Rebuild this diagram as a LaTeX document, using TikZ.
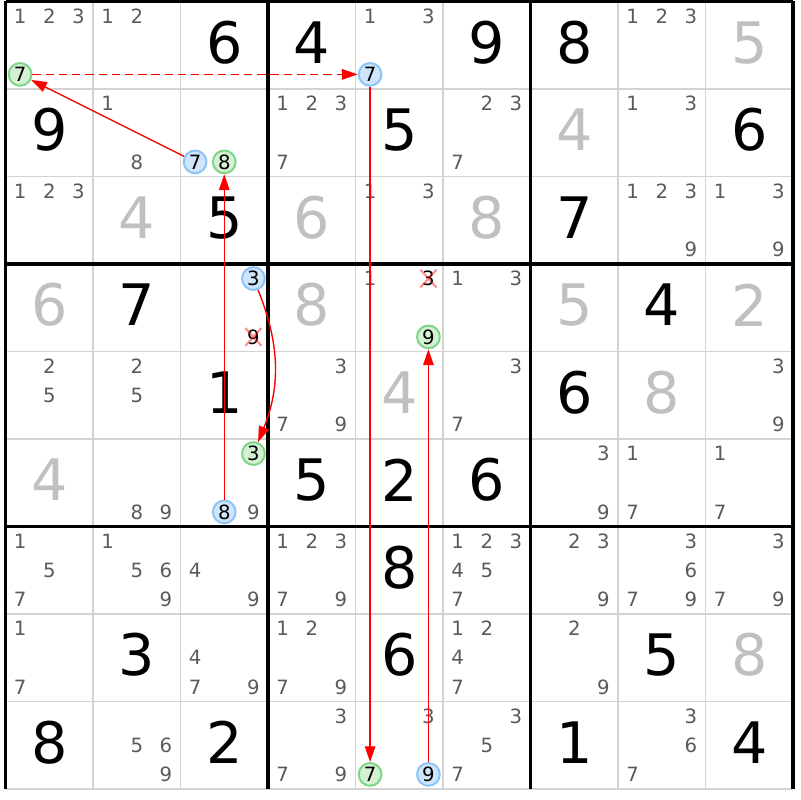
\documentclass[tikz,border=0pt]{standalone}
\usepackage{fontspec}
\setmainfont{DejaVu Sans}
\usetikzlibrary{arrows.meta}
\definecolor{candgray}{RGB}{90,90,90}
\definecolor{solvedgray}{RGB}{192,192,192}
\definecolor{gridgray}{RGB}{211,211,211}
\definecolor{onfill}{RGB}{207,229,252}
\definecolor{ondraw}{RGB}{140,196,245}
\definecolor{offfill}{RGB}{212,241,212}
\definecolor{offdraw}{RGB}{125,214,135}
\definecolor{linkred}{RGB}{255,0,0}

% cell (row, col): big digits and pencil marks
\newcommand{\Given}[3]{\node[given] (g#1#2) at (#2+0.5,#1+0.47) {#3};}
\newcommand{\Solved}[3]{\node[solved] (s#1#2) at (#2+0.5,#1+0.47) {#3};}
\newcommand{\Cands}[3]{\foreach \d in {#3} {%
    \node[cand] (c#1#2-\d) at ({#2+(mod(\d-1,3)+0.5)/3},{#1+(floor((\d-1)/3)+0.5)/3}) {\d};}}
\newcommand{\Mark}[4]{% style, row, col, digit
    \node[#1] (m#2#3#4) at ({#3+(mod(#4-1,3)+0.5)/3},{#2+(floor((#4-1)/3)+0.5)/3}) {#4};}
\newcommand{\Struck}[3]{%
    \node[struck] (x#1#2#3) at ({#2+(mod(#3-1,3)+0.5)/3},{#1+(floor((#3-1)/3)+0.5)/3}) {#3};
    \draw[xmark] (x#1#2#3.north west) -- (x#1#2#3.south east)
                 (x#1#2#3.north east) -- (x#1#2#3.south west);}

\begin{document}
\begin{tikzpicture}[x=1cm,y=-1cm,
        >={Triangle[length=1.8mm,width=1.2mm]},
        given/.style={font=\fontsize{18.6pt}{20pt}\selectfont,inner sep=0pt},
        solved/.style={given,text=solvedgray},
        cand/.style={font=\fontsize{6.4pt}{7pt}\selectfont,text=candgray,inner sep=0pt},
        on/.style={circle,inner sep=0pt,minimum size=0.26cm,line width=0.65pt,
            draw=ondraw,fill=onfill,font=\fontsize{6.4pt}{7pt}\selectfont},
        off/.style={on,draw=offdraw,fill=offfill},
        struck/.style={cand,text=black,minimum width=0.17cm,minimum height=0.19cm},
        xmark/.style={draw=linkred,draw opacity=0.45,line width=0.65pt},
        link/.style={->,draw=linkred,line width=0.45pt}]
    \useasboundingbox (-0.063,-0.017) rectangle (9.080,9.126);

    % grid
    \draw[gridgray,line width=0.6pt] (0,0) grid (9,9);
    \draw[line width=1pt,step=3cm] (0,0) grid (9,9);

    % row 0
    \Cands{0}{0}{1,2,3} \Mark{off}{0}{0}{7}
    \Cands{0}{1}{1,2}
    \Given{0}{2}{6} \Given{0}{3}{4}
    \Cands{0}{4}{1,3} \Mark{on}{0}{4}{7}
    \Given{0}{5}{9} \Given{0}{6}{8}
    \Cands{0}{7}{1,2,3}
    \Solved{0}{8}{5}
    % row 1
    \Given{1}{0}{9}
    \Cands{1}{1}{1,8}
    \Mark{on}{1}{2}{7} \Mark{off}{1}{2}{8}
    \Cands{1}{3}{1,2,3,7}
    \Given{1}{4}{5}
    \Cands{1}{5}{2,3,7}
    \Solved{1}{6}{4}
    \Cands{1}{7}{1,3}
    \Given{1}{8}{6}
    % row 2
    \Cands{2}{0}{1,2,3}
    \Solved{2}{1}{4} \Given{2}{2}{5} \Solved{2}{3}{6}
    \Cands{2}{4}{1,3}
    \Solved{2}{5}{8} \Given{2}{6}{7}
    \Cands{2}{7}{1,2,3,9}
    \Cands{2}{8}{1,3,9}
    % row 3
    \Solved{3}{0}{6} \Given{3}{1}{7}
    \Mark{on}{3}{2}{3} \Struck{3}{2}{9}
    \Solved{3}{3}{8}
    \Cands{3}{4}{1} \Struck{3}{4}{3} \Mark{off}{3}{4}{9}
    \Cands{3}{5}{1,3}
    \Solved{3}{6}{5} \Given{3}{7}{4} \Solved{3}{8}{2}
    % row 4
    \Cands{4}{0}{2,5}
    \Cands{4}{1}{2,5}
    \Given{4}{2}{1}
    \Cands{4}{3}{3,7,9}
    \Solved{4}{4}{4}
    \Cands{4}{5}{3,7}
    \Given{4}{6}{6} \Solved{4}{7}{8}
    \Cands{4}{8}{3,9}
    % row 5
    \Solved{5}{0}{4}
    \Cands{5}{1}{8,9}
    \Mark{off}{5}{2}{3} \Mark{on}{5}{2}{8} \Cands{5}{2}{9}
    \Given{5}{3}{5} \Given{5}{4}{2} \Given{5}{5}{6}
    \Cands{5}{6}{3,9}
    \Cands{5}{7}{1,7}
    \Cands{5}{8}{1,7}
    % row 6
    \Cands{6}{0}{1,5,7}
    \Cands{6}{1}{1,5,6,9}
    \Cands{6}{2}{4,9}
    \Cands{6}{3}{1,2,3,7,9}
    \Given{6}{4}{8}
    \Cands{6}{5}{1,2,3,4,5,7}
    \Cands{6}{6}{2,3,9}
    \Cands{6}{7}{3,6,7,9}
    \Cands{6}{8}{3,7,9}
    % row 7
    \Cands{7}{0}{1,7}
    \Given{7}{1}{3}
    \Cands{7}{2}{4,7,9}
    \Cands{7}{3}{1,2,7,9}
    \Given{7}{4}{6}
    \Cands{7}{5}{1,2,4,7}
    \Cands{7}{6}{2,9}
    \Given{7}{7}{5} \Solved{7}{8}{8}
    % row 8
    \Given{8}{0}{8}
    \Cands{8}{1}{5,6,9}
    \Given{8}{2}{2}
    \Cands{8}{3}{3,7,9}
    \Cands{8}{4}{3} \Mark{off}{8}{4}{7} \Mark{on}{8}{4}{9}
    \Cands{8}{5}{3,5,7}
    \Given{8}{6}{1}
    \Cands{8}{7}{3,6,7}
    \Given{8}{8}{4}

    % chain
    \draw[link,dash pattern=on 2.7pt off 1.6pt] (m007) -- (m047);
    \draw[link] (m127) -- (m007);
    \draw[link] (m047) -- (m847);
    \draw[link] (m528) -- (m128);
    \draw[link] (m323) to[bend left=22] (m523);
    \draw[link] (m849) -- (m349);
\end{tikzpicture}
\end{document}
